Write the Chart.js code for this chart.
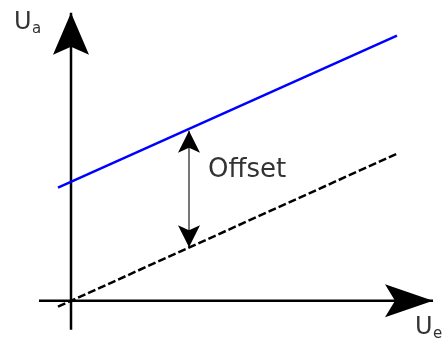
<!DOCTYPE html>
<html><head><meta charset="utf-8">
<script src="https://cdn.jsdelivr.net/npm/chart.js@4"></script>
<style>html,body{margin:0;padding:0;background:#fff;overflow:hidden}#wrap{width:443px;height:339px;position:relative}</style>
</head><body><div id="wrap"><canvas id="c" width="443" height="339"></canvas></div>
<script>
// ---- data (Ue on x, Ua on y, origin at axis crossing) ----
const xAxisName = 'U', xAxisSub = 'e';
const yAxisName = 'U', yAxisSub = 'a';
const offsetLabel = 'Offset';
const ueRange = [-1.3, 32.6];          // Ue where both characteristics are drawn
const idealUa = [-0.6, 14.7];          // ideal characteristic (dashed)
const realUa = [11.3, 26.5];           // real characteristic with offset (blue)
const offsetUe = [11.8, 11.8];         // where the offset is marked
const offsetUa = [5.35, 17.0];         // from ideal to real line
const xAxisUe = [-3.2, 36.2];
const yAxisUa = [-2.9, 28.8];

const pts = (xs, ys) => xs.map((x, i) => ({x, y: ys[i]}));

const arrowPlugin = {
  id: 'arrows',
  afterDatasetsDraw(chart) {
    const ctx = chart.ctx;
    const xs = chart.scales.x, ys = chart.scales.y;
    const P = p => ({x: xs.getPixelForValue(p.x), y: ys.getPixelForValue(p.y)});
    function head(tip, from, len, hw, notch) {
      const dx = tip.x - from.x, dy = tip.y - from.y, L = Math.hypot(dx, dy);
      const ux = dx / L, uy = dy / L, nx = -uy, ny = ux;
      ctx.beginPath();
      ctx.moveTo(tip.x, tip.y);
      ctx.lineTo(tip.x - ux * len + nx * hw, tip.y - uy * len + ny * hw);
      ctx.lineTo(tip.x - ux * (len - notch), tip.y - uy * (len - notch));
      ctx.lineTo(tip.x - ux * len - nx * hw, tip.y - uy * len - ny * hw);
      ctx.closePath();
      ctx.fillStyle = '#000';
      ctx.fill();
    }
    ctx.save();
    const xa = chart.data.datasets[2].data, ya = chart.data.datasets[3].data, oa = chart.data.datasets[4].data;
    head(P(xa[1]), P(xa[0]), 48, 16.5, 10);
    head(P(ya[1]), P(ya[0]), 42, 18, 8);
    head(P(oa[1]), P(oa[0]), 22, 11, 5);
    head(P(oa[0]), P(oa[1]), 22, 11, 5);

    // labels
    ctx.fillStyle = '#333';
    ctx.textBaseline = 'alphabetic';
    ctx.textAlign = 'left';
    const yTip = P(ya[1]);
    ctx.font = '24px "DejaVu Sans"';
    ctx.fillText(yAxisName, yTip.x - 57, yTip.y + 16);
    ctx.font = '15px "DejaVu Sans"';
    ctx.fillText(yAxisSub, yTip.x - 39, yTip.y + 20);
    const xTip = P(xa[1]);
    ctx.font = '24px "DejaVu Sans"';
    ctx.fillText(xAxisName, xTip.x - 18, xTip.y + 33);
    ctx.font = '15px "DejaVu Sans"';
    ctx.fillText(xAxisSub, xTip.x + 0, xTip.y + 37);
    const oTop = P(oa[1]), oBot = P(oa[0]);
    ctx.font = '26px "DejaVu Sans"';
    ctx.fillText(offsetLabel, oTop.x + 19, (oTop.y + oBot.y) / 2 - 12);
    ctx.restore();
  }
};

new Chart(document.getElementById('c'), {
  type: 'scatter',
  data: {
    datasets: [
      {data: pts(ueRange, realUa), showLine: true, borderColor: '#0000ff', borderWidth: 2.5, pointRadius: 0},
      {data: pts(ueRange, idealUa), showLine: true, borderColor: '#000', borderWidth: 2.5, borderDash: [8, 3], pointRadius: 0},
      {data: pts(xAxisUe, [0, 0]), showLine: true, borderColor: '#000', borderWidth: 2.5, pointRadius: 0},
      {data: pts([0, 0], yAxisUa), showLine: true, borderColor: '#000', borderWidth: 2.5, pointRadius: 0},
      {data: pts(offsetUe, offsetUa), showLine: true, borderColor: '#777', borderWidth: 2, pointRadius: 0}
    ]
  },
  options: {
    responsive: false,
    animation: false,
    devicePixelRatio: 1,
    layout: {padding: 0},
    plugins: {legend: {display: false}, tooltip: {enabled: false}},
    scales: {
      x: {type: 'linear', display: false, min: -7.1, max: 37.2},
      y: {type: 'linear', display: false, min: -3.83, max: 30.07}
    }
  },
  plugins: [arrowPlugin]
});
</script>
</body></html>
